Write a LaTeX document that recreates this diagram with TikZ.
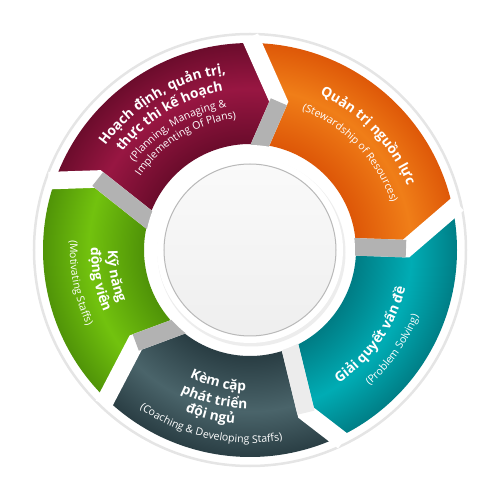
\documentclass[tikz,border=0pt]{standalone}
\usepackage{fontspec}
\setmainfont{Open Sans}
\usetikzlibrary{decorations.text}

% Segment colours (edge / middle)
\definecolor{magD}{RGB}{108,12,44}
\definecolor{magL}{RGB}{152,22,66}
\definecolor{oraD}{RGB}{222,88,8}
\definecolor{oraL}{RGB}{240,126,24}
\definecolor{teaD}{RGB}{0,126,134}
\definecolor{teaL}{RGB}{0,172,180}
\definecolor{sltD}{RGB}{42,62,68}
\definecolor{sltL}{RGB}{74,100,106}
\definecolor{grnD}{RGB}{80,148,8}
\definecolor{grnL}{RGB}{114,194,14}

\newcommand{\ringshade}[3]{%
  \pgfdeclareradialshading{#1}{\pgfpointorigin}{%
    color(0bp)=(#2); color(13bp)=(#2); color(19.5bp)=(#3);
    color(25bp)=(#2); color(50bp)=(#2)}}
\ringshade{magshade}{magD}{magL}
\ringshade{orashade}{oraD}{oraL}
\ringshade{teashade}{teaD}{teaL}
\ringshade{sltshade}{sltD}{sltL}
\ringshade{grnshade}{grnD}{grnL}

\newcommand{\tfont}{\fontsize{7.8pt}{8pt}\selectfont\bfseries}
\newcommand{\efont}{\fontsize{6pt}{7pt}\selectfont}

\begin{document}
\begin{tikzpicture}[x=0.02cm, y=0.02cm,
  gapw/.style={white, line width=0.35cm, line join=miter},
  gapg/.style={gray!60, line width=0.35cm},
  lbl/.style={decorate, decoration={text along path, text align=center,
    text color=white, text={#1}}}]

\useasboundingbox (-250,-250) rectangle (250,250);

% Outer ring
\fill[white] (0,0) circle (216);
\draw[gray!20, line width=0.05cm] (0,0) circle (216);

% Bends of the gaps
\coordinate (Ba) at (0.5:156);
\coordinate (Bb) at (79:151);
\coordinate (Bc) at (155:168);
\coordinate (Bd) at (219:147);
\coordinate (Be) at (289:172);

% Segments
\begin{scope}
\clip (12.5:207) arc[start angle=12.5, end angle=90, radius=207] -- (Bb)
  -- (86:106) arc[start angle=86, end angle=2, radius=106] -- (Ba) -- cycle;
\shade[shading=orashade] (0,0) circle (207);
\end{scope}
\begin{scope}
\clip (90:207) arc[start angle=90, end angle=161, radius=207] -- (Bc)
  -- (165:106) arc[start angle=165, end angle=86, radius=106] -- (Bb) -- cycle;
\shade[shading=magshade] (0,0) circle (207);
\end{scope}
\begin{scope}
\clip (161:207) arc[start angle=161, end angle=226.5, radius=207] -- (Bd)
  -- (229:106) arc[start angle=229, end angle=165, radius=106] -- (Bc) -- cycle;
\shade[shading=grnshade] (0,0) circle (207);
\end{scope}
\begin{scope}
\clip (226.5:207) arc[start angle=226.5, end angle=296, radius=207] -- (Be)
  -- (293:106) arc[start angle=293, end angle=229, radius=106] -- (Bd) -- cycle;
\shade[shading=sltshade] (0,0) circle (207);
\end{scope}
\begin{scope}
\clip (296:207) arc[start angle=296, end angle=372.5, radius=207] -- (Ba)
  -- (362:106) arc[start angle=362, end angle=293, radius=106] -- (Be) -- cycle;
\shade[shading=teashade] (0,0) circle (207);
\end{scope}

% Gaps
\draw[gapw] (12.5:213) -- (Ba) -- (2:98);
\draw[gapg] (Ba) -- (2:98);
\draw[gapw] (90:213) -- (Bb) -- (86:98);
\draw[gapg] (Bb) -- (86:98);
\draw[gapw] (161:213) -- (Bc) -- (165:98);
\draw[gapg] (Bc) -- (165:98);
\draw[gapw] (226.5:213) -- (Bd) -- (229:98);
\draw[gapg] (Bd) -- (229:98);
\draw[gapw] (296:213) -- (Be) -- (293:98);
\draw[gapg, gray!15] (Be) -- (293:98);

% Centre
\fill[white] (0,0) circle (105);
\fill[gray!14] (1.5,-2.5) circle (94);
\fill[white] (0,0) circle (93);
\shadedraw[top color=gray!4, bottom color=gray!13, draw=gray!55, line width=0.02cm] (0,0) circle (86);

% Labels
\path[lbl={|\tfont|Hoạch định, quản trị,}] (161:178) arc[start angle=161, end angle=81, radius=178];
\path[lbl={|\tfont|thực thi kế hoạch}] (161:161) arc[start angle=161, end angle=81, radius=161];
\path[lbl={|\efont|(Planning, Managing {\&}}] (161:145) arc[start angle=161, end angle=81, radius=145];
\path[lbl={|\efont|Implementing Of Plans)}] (161:132) arc[start angle=161, end angle=81, radius=132];

\path[lbl={|\tfont|Quản trị nguồn lực}] (84:170) arc[start angle=84, end angle=4, radius=170];
\path[lbl={|\efont|(Stewardship of Resources)}] (84:149) arc[start angle=84, end angle=4, radius=149];

\path[lbl={|\tfont|Giải quyết vấn đề}] (-75:160) arc[start angle=-75, end angle=5, radius=160];
\path[lbl={|\efont|(Problem Solving)}] (-75:181) arc[start angle=-75, end angle=5, radius=181];

\path[lbl={|\tfont|Kèm cặp}] (-143.5:141) arc[start angle=-143.5, end angle=-63.5, radius=141];
\path[lbl={|\tfont|phát triển}] (-143.5:158.5) arc[start angle=-143.5, end angle=-63.5, radius=158.5];
\path[lbl={|\tfont|đội ngủ}] (-143.5:174) arc[start angle=-143.5, end angle=-63.5, radius=174];
\path[lbl={|\efont|(Coaching {\&} Developing Staffs)}] (-142.6:193) arc[start angle=-142.6, end angle=-62.6, radius=193];

\path[lbl={|\tfont|Kỹ năng}] (151:142) arc[start angle=151, end angle=231, radius=142];
\path[lbl={|\tfont|động viên}] (151:159) arc[start angle=151, end angle=231, radius=159];
\path[lbl={|\efont|(Motivating Staffs)}] (151:180) arc[start angle=151, end angle=231, radius=180];

\end{tikzpicture}
\end{document}
